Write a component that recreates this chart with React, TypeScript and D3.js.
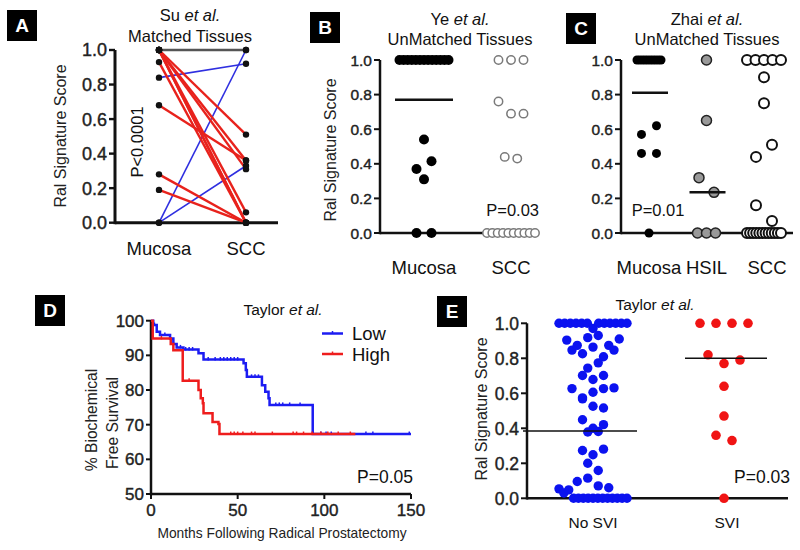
import React from 'react';
import * as d3 from 'd3';

const FONT = "'Liberation Sans', Arial, Helvetica, sans-serif";

// ---------------- Data ----------------
// Panel A — Su et al., matched tissues (paired values)
const suCategories = ['Mucosa', 'SCC'];
const suMucosa = [1, 0.84, 0, 0, 1, 1, 1, 1, 1, 1, 0.93, 0.68, 0.28, 0.19];
const suSCC = [1, 0.92, 1, 0.33, 0.51, 0.36, 0.31, 0.06, 0, 0, 0, 0.36, 0, 0];
const scoreTicks = [0, 0.2, 0.4, 0.6, 0.8, 1.0];

// Panel B — Ye et al., unmatched tissues
const yeCategories = ['Mucosa', 'SCC'];
const yeMucosa = [1, 1, 1, 1, 1, 1, 1, 1, 1, 1, 1, 1, 1, 0.54, 0.37, 0.415, 0.31, 0, 0];
const yeSCC = [1, 1, 1, 0.76, 0.69, 0.69, 0.44, 0.43, 0, 0, 0, 0, 0, 0, 0, 0, 0, 0];
const yeLines = [0.77, null];

// Panel C — Zhai et al., unmatched tissues
const zhaiCategories = ['Mucosa', 'HSIL', 'SCC'];
const zhaiMucosa = [1, 1, 1, 1, 1, 1, 1, 1, 1, 1, 0.57, 0.62, 0.46, 0.46, 0];
const zhaiHSIL = [1, 0.65, 0.32, 0.235, 0, 0, 0];
const zhaiSCC = [1, 1, 1, 1, 1, 0.9, 0.75, 0.44, 0.51, 0.16, 0.07, 0, 0, 0, 0, 0, 0, 0, 0, 0, 0, 0, 0];
const zhaiLines = [0.81, 0.235, null];

// Panel D — Taylor et al., Kaplan–Meier
const lowMonths = [0, 1.3, 3.3, 5.2, 11, 12.9, 14.8, 18.7, 27.4, 30.3, 53.4, 54.7, 55.3, 64, 65.9, 67.8, 68.4, 93.3, 150];
const lowSurvival = [100, 98.75, 96.8, 95.9, 94.9, 93.3, 92.3, 91.7, 90.6, 88.8, 87.7, 85.8, 83.8, 81.4, 79.5, 77.6, 75.7, 67.3, 67.3];
const highMonths = [0, 1, 11.4, 12.9, 18.3, 27.4, 28.7, 29.9, 30.3, 35.5, 38.9, 39.5, 117.9];
const highSurvival = [100, 94.9, 93.3, 91.5, 82.7, 80, 77.6, 76.2, 73.3, 70.8, 70.2, 67.3, 67.3];
const lowCensored = [2, 8, 17, 20, 22, 24, 33, 37, 40, 42, 44, 46, 48, 50, 58, 60, 62, 72, 74, 76, 80, 86, 98, 101, 104, 124, 128, 149];
const highCensored = [6, 22, 46, 48, 50, 53, 58, 60, 70, 82, 84, 88, 93, 98, 102, 108, 115];
const survTicks = [50, 60, 70, 80, 90, 100];
const monthTicks = [0, 50, 100, 150];

// Panel E — Taylor et al., SVI
const taylorCategories = ['No SVI', 'SVI'];
const taylorNoSVI = [
  1, 1, 1, 1, 1, 1, 0.97, 1, 1, 1, 1, 1, 1,
  0.904, 0.847, 0.874, 0.826, 0.918, 0.864, 0.93, 0.874, 0.809, 0.91, 0.847,
  0.744, 0.774, 0.702, 0.679, 0.702,
  0.627, 0.574, 0.606, 0.627, 0.631, 0.568,
  0.526, 0.516, 0.449, 0.4, 0.379, 0.382, 0.421,
  0.273, 0.249, 0.281, 0.2, 0.159, 0.096, 0.115, 0.054, 0.03, 0.071, 0.06, 0.048,
  0, 0, 0, 0, 0, 0, 0, 0, 0, 0, 0, 0,
];
const taylorSVI = [1, 1, 1, 1, 0.82, 0.77, 0.79, 0.64, 0.47, 0.36, 0.33, 0];
const taylorLines = [0.385, 0.8];

// ---------------- Helpers ----------------
function swarm(values: number[], rowH: number, sp: number, maxW: number): number[] {
  const idx = values.map((_, i) => i).sort((a, b) => values[b] - values[a] || a - b);
  const offs = new Array(values.length).fill(0);
  let i = 0;
  while (i < idx.length) {
    const start = values[idx[i]];
    const row: number[] = [];
    while (i < idx.length && start - values[idx[i]] < rowH - 1e-9) {
      row.push(idx[i]);
      i++;
    }
    row.sort((a, b) => a - b);
    const n = row.length;
    const s = n > 1 ? Math.min(sp, maxW / (n - 1)) : 0;
    row.forEach((k, j) => (offs[k] = (j - (n - 1) / 2) * s));
  }
  return offs;
}

function Txt({ x, y, size, anchor = 'middle', rotate = 0, sx = 1, weight = 'normal', fill = '#111', bold = 0, children }: any) {
  return (
    <text
      transform={`translate(${x},${y}) rotate(${rotate}) scale(${sx},1)`}
      fontSize={size}
      textAnchor={anchor}
      fontFamily={FONT}
      fontWeight={weight}
      fill={fill}
      stroke={bold ? fill : 'none'}
      strokeWidth={bold}
    >
      {children}
    </text>
  );
}

function PanelBox({ x, y, letter }: any) {
  return (
    <g>
      <rect x={x} y={y} width={30} height={31} fill="#000" />
      <Txt x={x + 15} y={y + 22} size={19} weight="bold" fill="#fff">{letter}</Txt>
    </g>
  );
}

function YAxis({ x, scale, ticks, fmt, size, sw = 2.5, tickLen = 6, gap = 2 }: any) {
  const [d0, d1] = scale.domain();
  return (
    <g>
      <line x1={x} x2={x} y1={scale(d0) + sw / 2} y2={scale(d1)} stroke="#111" strokeWidth={sw} />
      {ticks.map((t: number) => (
        <g key={t}>
          <line x1={x - tickLen} x2={x} y1={scale(t)} y2={scale(t)} stroke="#111" strokeWidth={sw * 0.8} />
          <Txt x={x - tickLen - gap} y={scale(t) + size * 0.36} size={size} anchor="end" fill="#222" bold={0.4}>
            {fmt(t)}
          </Txt>
        </g>
      ))}
    </g>
  );
}

const f1 = d3.format('.1f');

// ---------------- Panels ----------------
function PanelA() {
  const y = d3.scaleLinear().domain([0, 1]).range([222.7, 50]);
  const x = d3.scalePoint<string>().domain(suCategories).range([159, 246]);
  const x0 = x('Mucosa')!, x1 = x('SCC')!;
  const pairs = suMucosa.map((m, i) => ({ m, s: suSCC[i] }));
  const col = (p: any) => (p.s < p.m ? '#e8221c' : p.s > p.m ? '#2f2fe0' : '#555');
  const sw = (p: any) => (p.s < p.m ? 2.4 : p.s > p.m ? 1.6 : 2.6);
  const order = [...pairs].sort((a, b) => (a.s > a.m ? 0 : 1) - (b.s > b.m ? 0 : 1));
  return (
    <g>
      <PanelBox x={7} y={10} letter="A" />
      <Txt x={190} y={21} size={16.5}>Su <tspan fontStyle="italic">et al.</tspan></Txt>
      <Txt x={190} y={42} size={16.5}>Matched Tissues</Txt>
      <Txt x={66} y={136} size={16} rotate={-90} fill="#222">Ral Signature Score</Txt>
      <Txt x={143} y={142} size={16.5} rotate={-90}>P&lt;0.0001</Txt>
      <YAxis x={115} scale={y} ticks={scoreTicks} fmt={f1} size={18} sw={3} tickLen={6} />
      <line x1={115} x2={278} y1={y(0)} y2={y(0)} stroke="#111" strokeWidth={3} />
      {order.map((p, i) => (
        <line key={i} x1={x0} y1={y(p.m)} x2={x1} y2={y(p.s)} stroke={col(p)} strokeWidth={sw(p)} />
      ))}
      {pairs.map((p, i) => (
        <g key={'d' + i}>
          <circle cx={x0} cy={y(p.m)} r={3.2} fill="#111" />
          <circle cx={x1} cy={y(p.s)} r={3.2} fill="#111" />
        </g>
      ))}
      {suCategories.map((c) => (
        <Txt key={c} x={x(c)} y={255} size={18.5}>{c}</Txt>
      ))}
    </g>
  );
}

function Dots({ values, cx, y, rowH, sp, maxW, r, fill, stroke, sw }: any) {
  const offs = swarm(values, rowH, sp, maxW);
  return (
    <g>
      {values.map((v: number, i: number) => (
        <circle key={i} cx={cx + offs[i]} cy={y(v)} r={r} fill={fill} stroke={stroke} strokeWidth={sw} />
      ))}
    </g>
  );
}

function PanelB() {
  const y = d3.scaleLinear().domain([0, 1]).range([233, 60]);
  const x = d3.scalePoint<string>().domain(yeCategories).range([424, 511]);
  return (
    <g>
      <PanelBox x={310} y={12} letter="B" />
      <Txt x={460} y={25} size={16.5}>Ye <tspan fontStyle="italic">et al.</tspan></Txt>
      <Txt x={460} y={45} size={16.5}>UnMatched Tissues</Txt>
      <Txt x={336} y={150} size={16} rotate={-90} fill="#222">Ral Signature Score</Txt>
      <YAxis x={380} scale={y} ticks={scoreTicks} fmt={f1} size={15.5} sw={2.5} tickLen={6} />
      <line x1={380} x2={538} y1={y(0)} y2={y(0)} stroke="#111" strokeWidth={2.5} />
      <Dots values={yeMucosa} cx={x('Mucosa')} y={y} rowH={0.09} sp={15} maxW={49} r={5} fill="#000" />
      <Dots values={yeSCC} cx={x('SCC')} y={y} rowH={0.09} sp={12.5} maxW={48} r={4.2} fill="#fff" stroke="#7a7a7a" sw={1.5} />
      {yeLines.map((v, i) =>
        v == null ? null : (
          <line key={i} x1={x(yeCategories[i])! - 29} x2={x(yeCategories[i])! + 29} y1={y(v)} y2={y(v)} stroke="#111" strokeWidth={2.5} />
        )
      )}
      <Txt x={539} y={216} size={16.5} anchor="end">P=0.03</Txt>
      {yeCategories.map((c) => (
        <Txt key={c} x={x(c)} y={274} size={18.5}>{c}</Txt>
      ))}
    </g>
  );
}

function PanelC() {
  const y = d3.scaleLinear().domain([0, 1]).range([233, 60]);
  const x = d3.scalePoint<string>().domain(zhaiCategories).range([649, 764]);
  return (
    <g>
      <PanelBox x={566} y={13} letter="C" />
      <Txt x={707} y={25} size={16.5}>Zhai <tspan fontStyle="italic">et al.</tspan></Txt>
      <Txt x={707} y={45} size={16.5}>UnMatched Tissues</Txt>
      <YAxis x={621} scale={y} ticks={scoreTicks} fmt={f1} size={15.5} sw={2.5} tickLen={6} />
      <line x1={621} x2={793} y1={y(0)} y2={y(0)} stroke="#111" strokeWidth={2.5} />
      <Dots values={zhaiMucosa} cx={x('Mucosa')} y={y} rowH={0.1} sp={15} maxW={24} r={4.5} fill="#000" />
      <Dots values={zhaiHSIL} cx={x('HSIL')} y={y} rowH={0.1} sp={15} maxW={18} r={5} fill="#999" stroke="#222" sw={1.5} />
      <Dots values={zhaiSCC} cx={x('SCC')} y={y} rowH={0.1} sp={16} maxW={34} r={5} fill="#fff" stroke="#111" sw={2} />
      {zhaiLines.map((v, i) =>
        v == null ? null : (
          <line key={i} x1={x(zhaiCategories[i])! - 17} x2={x(zhaiCategories[i])! + 19} y1={y(v)} y2={y(v)} stroke="#111" strokeWidth={2.5} />
        )
      )}
      <Txt x={658} y={216} size={16.5}>P=0.01</Txt>
      {zhaiCategories.map((c, i) => (
        <Txt key={c} x={x(c)! + (i === 2 ? 3 : 0)} y={274} size={18.5}>{c}</Txt>
      ))}
    </g>
  );
}

function stepAt(months: number[], surv: number[], t: number) {
  let v = surv[0];
  for (let i = 0; i < months.length; i++) if (months[i] <= t) v = surv[i];
  return v;
}

function PanelD() {
  const x = d3.scaleLinear().domain([0, 150]).range([151, 411]);
  const y = d3.scaleLinear().domain([50, 100]).range([494, 320.7]);
  const line = d3.line<[number, number]>().x((d) => x(d[0])).y((d) => y(d[1])).curve(d3.curveStepAfter);
  const low = lowMonths.map((m, i) => [m, lowSurvival[i]] as [number, number]);
  const high = highMonths.map((m, i) => [m, highSurvival[i]] as [number, number]);
  const blue = '#1c1cf2', red = '#ee1d1d';
  return (
    <g>
      <PanelBox x={35} y={295} letter="D" />
      <Txt x={283} y={315} size={15.5}>Taylor <tspan fontStyle="italic">et al.</tspan></Txt>
      <Txt x={97} y={420} size={17} rotate={-90} sx={0.92} fill="#222">% Biochemical</Txt>
      <Txt x={118} y={423} size={17} rotate={-90} sx={0.92} fill="#222">Free Survival</Txt>
      <YAxis x={151} scale={y} ticks={survTicks} fmt={(d: number) => String(d)} size={17} sw={2.5} tickLen={5} />
      <line x1={151} x2={411} y1={y(50)} y2={y(50)} stroke="#111" strokeWidth={2.5} />
      {monthTicks.map((t) => (
        <g key={t}>
          <line x1={x(t)} x2={x(t)} y1={y(50)} y2={y(50) + 5} stroke="#111" strokeWidth={2} />
          <Txt x={x(t)} y={516} size={17} fill="#222" bold={0.4}>{t}</Txt>
        </g>
      ))}
      <Txt x={282} y={538} size={15} sx={0.92} fill="#222">Months Following Radical Prostatectomy</Txt>
      <path d={line(low)!} fill="none" stroke={blue} strokeWidth={2.5} />
      {lowCensored.map((t, i) => (
        <line key={'lc' + i} x1={x(t)} x2={x(t)} y1={y(stepAt(lowMonths, lowSurvival, t)) - 2.5} y2={y(stepAt(lowMonths, lowSurvival, t)) + 1} stroke={blue} strokeWidth={1.5} />
      ))}
      <path d={line(high)!} fill="none" stroke={red} strokeWidth={2.5} />
      {highCensored.map((t, i) => (
        <line key={'hc' + i} x1={x(t)} x2={x(t)} y1={y(stepAt(highMonths, highSurvival, t)) - 2.5} y2={y(stepAt(highMonths, highSurvival, t)) + 1} stroke={red} strokeWidth={1.5} />
      ))}
      <line x1={322} x2={343} y1={333.5} y2={333.5} stroke={blue} strokeWidth={2.5} />
      <line x1={332.5} x2={332.5} y1={331} y2={334} stroke={blue} strokeWidth={1.5} />
      <Txt x={352} y={340} size={18.5} anchor="start">Low</Txt>
      <line x1={322} x2={343} y1={354} y2={354} stroke={red} strokeWidth={2.5} />
      <line x1={332.5} x2={332.5} y1={351.5} y2={354.5} stroke={red} strokeWidth={1.5} />
      <Txt x={352} y={361} size={18.5} anchor="start">High</Txt>
      <Txt x={413} y={483} size={17.5} anchor="end">P=0.05</Txt>
    </g>
  );
}

function PanelE() {
  const y = d3.scaleLinear().domain([0, 1]).range([498.3, 323.3]);
  const x = d3.scalePoint<string>().domain(taylorCategories).range([593, 724]);
  return (
    <g>
      <PanelBox x={437} y={296} letter="E" />
      <Txt x={655} y={310} size={15.5}>Taylor <tspan fontStyle="italic">et al.</tspan></Txt>
      <Txt x={487} y={409} size={16} rotate={-90} fill="#222">Ral Signature Score</Txt>
      <YAxis x={527} scale={y} ticks={scoreTicks} fmt={f1} size={17.5} sw={2.5} tickLen={6} />
      <line x1={527} x2={788} y1={y(0)} y2={y(0)} stroke="#111" strokeWidth={2.5} />
      <Dots values={taylorNoSVI} cx={x('No SVI')} y={y} rowH={0.06} sp={10.5} maxW={68} r={4.7} fill="#0b12f0" />
      <Dots values={taylorSVI} cx={x('SVI')} y={y} rowH={0.06} sp={16} maxW={48} r={4.8} fill="#f01414" />
      <line x1={523} x2={637} y1={y(taylorLines[0])} y2={y(taylorLines[0])} stroke="#111" strokeWidth={1.4} />
      <line x1={685} x2={767} y1={y(taylorLines[1])} y2={y(taylorLines[1])} stroke="#111" strokeWidth={1.4} />
      <Txt x={790} y={483} size={17.5} anchor="end">P=0.03</Txt>
      <Txt x={x('No SVI')} y={528} size={15.5}>No SVI</Txt>
      <Txt x={x('SVI')! + 3} y={528} size={15.5}>SVI</Txt>
    </g>
  );
}

export default function App() {
  return (
    <svg width={800} height={550} style={{ position: 'absolute', left: 0, top: 0, background: '#fff' }}>
      <rect width={800} height={550} fill="#fff" />
      <PanelA />
      <PanelB />
      <PanelC />
      <PanelD />
      <PanelE />
    </svg>
  );
}
